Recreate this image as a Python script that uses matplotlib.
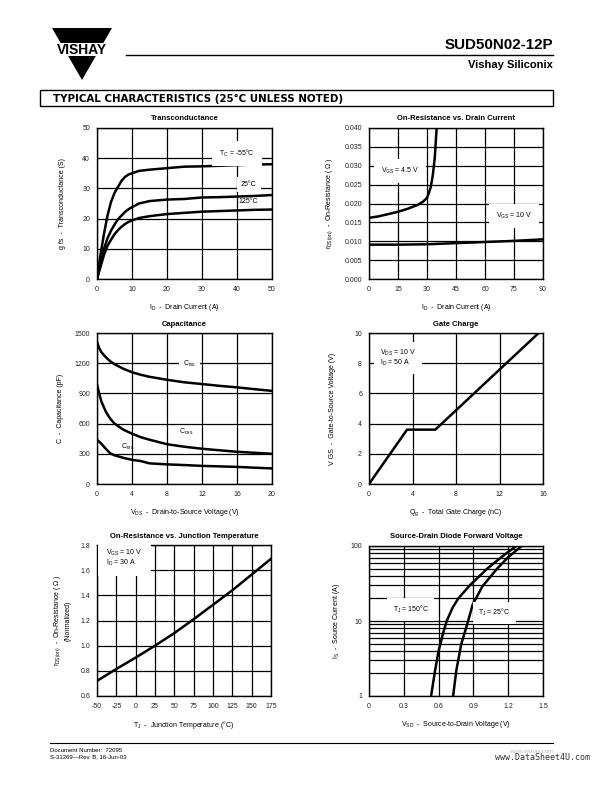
import numpy as np
import matplotlib.pyplot as plt
from matplotlib.patches import Polygon, Rectangle

plt.rcParams['font.family'] = ['Liberation Sans', 'DejaVu Sans']
plt.rcParams['mathtext.fontset'] = 'custom'
plt.rcParams['mathtext.rm'] = 'Liberation Sans'
plt.rcParams['mathtext.it'] = 'Liberation Sans'
plt.rcParams['mathtext.bf'] = 'Liberation Sans:bold'
plt.rcParams['mathtext.default'] = 'regular'

# --- Transconductance
gfs_id = [0, 1, 2, 3, 4, 5, 6, 7, 8, 9, 10, 12, 15, 20, 25, 30, 35, 40, 45, 50]
gfs_m55 = [0, 8, 15, 21, 25.5, 28.5, 30.5, 32.5, 33.8, 34.6, 35, 35.8, 36.2, 36.7, 37.2, 37.3, 37.5, 37.7, 37.9, 38.0]
gfs_25 = [0, 5, 10, 13.5, 16, 18, 19.8, 21, 22.2, 23.1, 23.8, 25, 25.8, 26.3, 26.5, 27, 27.1, 27.3, 27.5, 27.8]
gfs_125 = [0, 4, 8, 11, 13, 14.8, 16.2, 17.3, 18.2, 18.9, 19.4, 20.2, 20.8, 21.5, 21.9, 22.3, 22.5, 22.7, 22.9, 23.0]

# --- On-resistance vs drain current
rds_id45 = [0, 5, 10, 15, 20, 25, 28, 30, 31, 32, 33, 34, 34.5, 35]
rds_45 = [0.0162, 0.0166, 0.0172, 0.0178, 0.0186, 0.0196, 0.0205, 0.0215, 0.0228, 0.0245, 0.0275, 0.032, 0.036, 0.040]
rds_id10 = [0, 15, 30, 45, 60, 75, 90]
rds_10 = [0.0091, 0.0091, 0.0092, 0.0095, 0.0098, 0.0101, 0.0105]

# --- Capacitance
cap_v = [0, 0.25, 0.5, 1, 1.5, 2, 3, 4, 5, 6, 8, 10, 12, 14, 16, 18, 20]
ciss = [1410, 1350, 1310, 1260, 1220, 1190, 1145, 1110, 1085, 1065, 1035, 1010, 993, 975, 960, 942, 925]
coss = [990, 900, 820, 720, 650, 600, 540, 500, 465, 440, 395, 370, 350, 335, 320, 310, 300]
crss = [440, 420, 400, 350, 305, 285, 260, 240, 228, 205, 195, 188, 180, 175, 170, 162, 155]

# --- Gate charge
qg = [0, 3.5, 6.1, 15.6]
vgs = [0, 3.6, 3.6, 10]

# --- On-resistance vs junction temperature
tj = [-50, -25, 0, 25, 50, 75, 100, 125, 150, 175]
rds_norm = [0.72, 0.815, 0.905, 1.0, 1.1, 1.21, 1.325, 1.44, 1.565, 1.69]

# --- Source-drain diode
vsd_150 = [0.535, 0.57, 0.6, 0.64, 0.67, 0.72, 0.77, 0.87, 1.02, 1.16, 1.27]
is_150 = [1, 2.2, 4, 7, 10, 15, 20, 30, 50, 75, 100]
vsd_25 = [0.725, 0.753, 0.795, 0.846, 0.894, 0.978, 1.105, 1.2, 1.317]
is_25 = [1, 2.2, 4.9, 9, 16.6, 29, 50, 71, 100]

W, H = 612, 792
fig = plt.figure(figsize=(6.12, 7.92), dpi=100)

# page decorations in pixel coordinates
bg = fig.add_axes([0, 0, 1, 1])
bg.set_xlim(0, W)
bg.set_ylim(H, 0)
bg.axis('off')

# logo: triangle cut by a white band carrying the name
bg.add_patch(Polygon([[52, 28], [112, 28], [82, 80]], closed=True, fc='black', ec='none'))
bg.add_patch(Rectangle((45, 43), 75, 13, fc='white', ec='none'))
bg.text(82, 49.5, 'VISHAY', fontsize=10, fontweight='bold', ha='center', va='center')
bg.plot([126, 553], [55, 55], color='black', lw=1)
bg.text(553, 45, 'SUD50N02-12P', fontsize=10.9, fontweight='bold', ha='right', va='center')
bg.text(553, 65, 'Vishay Siliconix', fontsize=8, fontweight='bold', ha='right', va='center')

bg.add_patch(Rectangle((40, 90), 513, 16, fc='white', ec='black', lw=1))
bg.text(53, 98.5, 'TYPICAL CHARACTERISTICS (25°C UNLESS NOTED)', fontsize=7.4,
        fontweight='bold', family='DejaVu Sans', ha='left', va='center')

bg.plot([50, 553], [743, 743], color='black', lw=0.8)
bg.text(50, 750, 'Document Number:  72095', fontsize=4.3, ha='left', va='center')
bg.text(50, 757, 'S-31269\u2014Rev. B, 16-Jun-03', fontsize=4.3, ha='left', va='center')
bg.text(553, 752, 'www.vishay.com', fontsize=4.3, color='#bbbbbb', ha='right', va='center')
bg.text(590, 758, 'www.DataSheet4U.com', fontsize=6, family='DejaVu Sans Mono',
        color='#333333', ha='right', va='center')


def panel(box, xlim, ylim, xticks, xtl, yticks, ytl, title, xlabel, ylabel, ylab_x, log=False):
    l, t, r, b = box
    ax = fig.add_axes([l / W, 1 - b / H, (r - l) / W, (b - t) / H])
    if log:
        ax.set_yscale('log')
    ax.set_xlim(xlim)
    ax.set_ylim(ylim)
    ax.set_xticks(xticks)
    ax.set_xticklabels(xtl)
    ax.set_yticks(yticks)
    ax.set_yticklabels(ytl)
    ax.tick_params(length=0, labelsize=5, pad=5, colors='#222222', which='both')
    if log:
        ax.yaxis.set_minor_formatter(plt.NullFormatter())
        ax.grid(True, which='both', axis='y', color='black', lw=0.9)
        ax.grid(True, which='major', axis='x', color='black', lw=0.9)
    else:
        ax.grid(True, color='black', lw=0.9)
    ax.set_axisbelow(True)
    for s in ax.spines.values():
        s.set_linewidth(1)
    hp = b - t
    ax.text(0.5, 1 + 9 / hp, title, transform=ax.transAxes, fontsize=5.5,
            fontweight='bold', ha='center', va='center')
    ax.set_xlabel(xlabel, fontsize=5)
    ax.xaxis.set_label_coords(0.5, -23 / hp)
    ax.set_ylabel(ylabel, fontsize=5, ha='center', va='center')
    ax.yaxis.set_label_coords((ylab_x - l) / (r - l), 0.5)
    return ax


box = dict(fc='white', ec='none', pad=3)
lw = 1.8

ax1 = panel((97, 128, 272, 279), (0, 50), (0, 50), range(0, 51, 10),
            [str(v) for v in range(0, 51, 10)], range(0, 51, 10),
            [str(v) for v in range(0, 51, 10)], 'Transconductance',
            'I$_D$  -  Drain Current (A)', 'g fs  -  Transconductance (S)', 63)
ax1.plot(gfs_id, gfs_m55, color='black', lw=lw)
ax1.plot(gfs_id, gfs_25, color='black', lw=lw)
ax1.plot(gfs_id, gfs_125, color='black', lw=lw)
ax1.text(40, 41.7, 'T$_C$ = -55°C', fontsize=5, ha='center', va='center', bbox=dict(fc='white', ec='none', pad=5))
ax1.text(43.4, 31.3, '25°C', fontsize=5, ha='center', va='center', bbox=box)
ax1.text(43.1, 25.8, '125°C', fontsize=5, ha='center', va='center')

ax2 = panel((369, 128, 543, 279), (0, 90), (0, 0.04), range(0, 91, 15),
            [str(v) for v in range(0, 91, 15)], np.arange(0, 0.0401, 0.005),
            ['%.3f' % v for v in np.arange(0, 0.0401, 0.005)], 'On-Resistance vs. Drain Current',
            'I$_D$  -  Drain Current (A)', 'r$_{DS(on)}$  -  On-Resistance ( Ω )', 330)
ax2.plot(rds_id45, rds_45, color='black', lw=lw)
ax2.plot(rds_id10, rds_10, color='black', lw=lw)
ax2.text(16, 0.0287, 'V$_{GS}$ = 4.5 V', fontsize=5, ha='center', va='center', bbox=dict(fc='white', ec='none', pad=5))
ax2.text(75, 0.0166, 'V$_{GS}$ = 10 V', fontsize=5, ha='center', va='center', bbox=dict(fc='white', ec='none', pad=5))

ax3 = panel((97, 333, 272, 484), (0, 20), (0, 1500), range(0, 21, 4),
            [str(v) for v in range(0, 21, 4)], range(0, 1501, 300),
            [str(v) for v in range(0, 1501, 300)], 'Capacitance',
            'V$_{DS}$  -  Drain-to-Source Voltage (V)', 'C  -  Capacitance (pF)', 60)
ax3.plot(cap_v, ciss, color='black', lw=lw)
ax3.plot(cap_v, coss, color='black', lw=lw)
ax3.plot(cap_v, crss, color='black', lw=lw)
ax3.text(10.6, 1195, 'C$_{iss}$', fontsize=5, ha='center', va='center', bbox=box)
ax3.text(10.2, 515, 'C$_{oss}$', fontsize=5, ha='center', va='center')
ax3.text(3.5, 365, 'C$_{rss}$', fontsize=5, ha='center', va='center')

ax4 = panel((369, 333, 543, 484), (0, 16), (0, 10), range(0, 17, 4),
            [str(v) for v in range(0, 17, 4)], range(0, 11, 2),
            [str(v) for v in range(0, 11, 2)], 'Gate Charge',
            'Q$_g$  -  Total Gate Charge (nC)', 'V GS  -  Gate-to-Source Voltage (V)', 333)
ax4.plot(qg, vgs, color='black', lw=lw)
ax4.text(1.0, 8.35, 'V$_{DS}$ = 10 V\nI$_D$ = 50 A', fontsize=5, ha='left', va='center',
         linespacing=1.0, bbox=dict(fc='white', ec='none', pad=4))

ax5 = panel((97, 545, 271, 696), (-50, 175), (0.6, 1.8), range(-50, 176, 25),
            [str(v) for v in range(-50, 176, 25)], np.arange(0.6, 1.81, 0.2),
            ['%.1f' % v for v in np.arange(0.6, 1.81, 0.2)], 'On-Resistance vs. Junction Temperature',
            'T$_J$  -  Junction Temperature (°C)',
            'r$_{DS(on)}$  -  On-Resistance ( Ω )\n(Normalized)', 62)
ax5.plot(tj, rds_norm, color='black', lw=lw)
ax5.text(-38, 1.70, 'V$_{GS}$ = 10 V\nI$_D$ = 30 A', fontsize=5, ha='left', va='center',
         linespacing=1.0, bbox=dict(fc='white', ec='none', pad=6))

ax6 = panel((369, 546, 543, 696), (0, 1.5), (1, 100), [0, 0.3, 0.6, 0.9, 1.2, 1.5],
            ['0', '0.3', '0.6', '0.9', '1.2', '1.5'], [1, 10, 100], ['1', '10', '100'],
            'Source-Drain Diode Forward Voltage',
            'V$_{SD}$  -  Source-to-Drain Voltage (V)', 'I$_S$  -  Source Current (A)', 336, log=True)
ax6.plot(vsd_150, is_150, color='black', lw=lw)
ax6.plot(vsd_25, is_25, color='black', lw=lw)
ax6.text(0.36, 14.2, 'T$_J$ = 150°C', fontsize=5, ha='center', va='center', bbox=dict(fc='white', ec='none', pad=4))
ax6.text(1.08, 12.9, 'T$_J$ = 25°C', fontsize=5, ha='center', va='center', bbox=dict(fc='white', ec='none', pad=4))

fig.savefig('out.png', dpi=100)
